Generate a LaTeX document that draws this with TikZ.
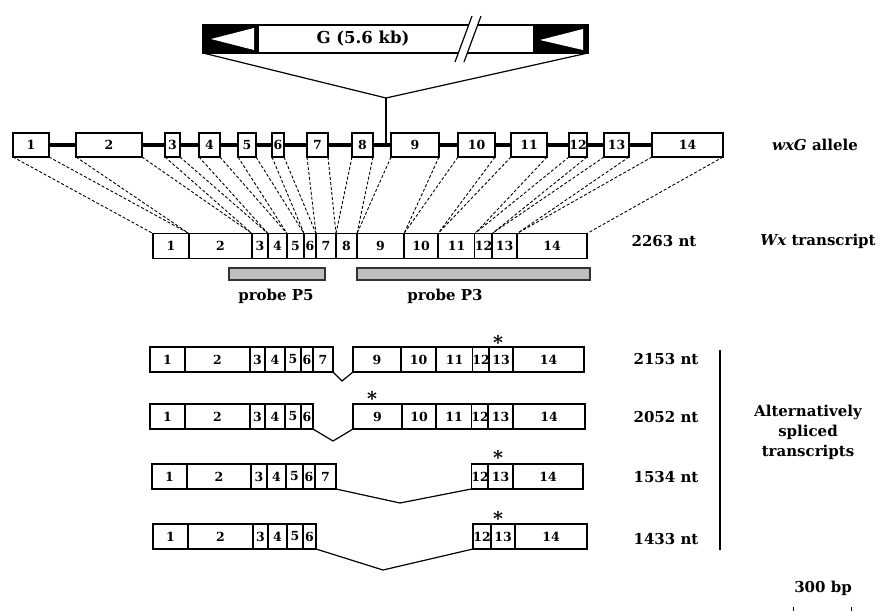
\documentclass[tikz,border=0pt]{standalone}
\usepackage{fontspec}
\setmainfont{DejaVu Serif}
\usetikzlibrary{arrows.meta,positioning,calc}

\begin{document}
\begin{tikzpicture}[x=1pt,y=-1pt,
  every node/.style={font=\fontsize{12.5}{14}\selectfont\bfseries, inner sep=0pt, outer sep=0pt},
  exon/.style={draw, line width=1.8pt, fill=white, minimum height=24pt},
  seg/.style={draw, line width=1.3pt, fill=white, minimum height=25pt},
  intron/.style={line width=3.2pt},
  splice/.style={line width=1.2pt},
  guide/.style={dash pattern=on 3pt off 2pt, line width=0.9pt},
  probebar/.style={draw=black!80, line width=1.2pt, fill=gray!50, minimum height=12pt},
  tag/.style={font=\fontsize{15}{20}\selectfont\bfseries},
  star/.style={font=\fontsize{19}{19}\selectfont\bfseries}]
  \useasboundingbox (0,0) rectangle (887,611);

  %% Insert G with its two end repeats
  \node[draw, line width=1.6pt, minimum width=385pt, minimum height=28pt] (gbox) at (395.5,39) {};
  \fill (203,25) rectangle (259,53);
  \fill[white] (211,39) -- (254,28) -- (254,50) -- cycle;
  \fill (533,25) rectangle (588,53);
  \fill[white] (540,40) -- (583,29) -- (583,50) -- cycle;
  \fill[white] (455,62) -- (472,16) -- (481,16) -- (464,62) -- cycle;
  \draw[splice] (455,62) -- (472,16);
  \draw[splice] (464,62) -- (481,16);
  \node[tag, font=\fontsize{16.5}{20}\selectfont\bfseries] (glabel) at (363,39) {G (5.6 kb)};

  %% Insertion point
  \coordinate (gtip) at (386,98);
  \coordinate (ins)  at (386,145);
  \draw[splice] (gbox.south west) -- (gtip) -- (gbox.south east);
  \draw[splice] (gtip) -- (ins);

  %% wxG allele
  \foreach \n/\l/\r in {1/13/49,2/76/142,3/165/180,4/199/220,5/238/256,6/272/284,7/307/328,
                        8/352/373,9/391/439,10/458/495,11/511/547,12/569/587,13/604/629,14/652/723}
    \node[exon, minimum width={(\r-\l)*1pt}] (a\n) at ({(\l+\r)/2},145) {\n};
  \foreach \i [evaluate=\i as \j using int(\i+1)] in {1,...,13}
    \draw[intron] (a\i) -- (a\j);
  \node[tag] (allele) at (815,145) {\textit{wxG} allele};

  %% Wx transcript
  \foreach \n/\l/\r in {1/153/189,2/189/252,3/252/268,4/268/287,5/287/304,6/304/316,7/316/336,
                        8/336/357,9/357/404,10/404/438,11/438/475,12/475/492,13/492/517,14/517/587}
    \node[seg, minimum width={(\r-\l)*1pt}] (t\n) at ({(\l+\r)/2},246) {\n};
  \foreach \n in {1,...,14} {
    \draw[guide] (a\n.south west) -- (t\n.north west);
    \draw[guide] (a\n.south east) -- (t\n.north east);
  }
  \node[tag] (len0) at (664,241) {2263 nt};
  \node[tag] (wxlabel) at (818,241) {\textit{Wx} transcript};

  %% Probes
  \node[probebar, minimum width=96pt] (p5) at (277,274) {};
  \node[probebar, minimum width=233pt] (p3) at (473.5,274) {};
  \node[tag] (p5label) at (276,296) {probe P5};
  \node[tag] (p3label) at (445,296) {probe P3};

  %% 2153 nt
  \foreach \n/\l/\r in {1/150/185,2/185/250,3/250/265,4/265/285,5/285/301,6/301/313,7/313/333,
                        9/353/401,10/401/436,11/436/473,12/473/489,13/489/513,14/513/584}
    \node[seg, minimum width={(\r-\l)*1pt}] (ra\n) at ({(\l+\r)/2},359.5) {\n};
  \coordinate (ra-v) at (342,381);
  \draw[splice] (ra7.south east) -- (ra-v) -- (ra9.south west);
  \node[star] (ra-star) at (498,342) {*};

  %% 2052 nt
  \foreach \n/\l/\r in {1/150/185,2/185/250,3/250/265,4/265/285,5/285/301,6/301/313,
                        9/353/402,10/402/436,11/436/472,12/472/488,13/488/513,14/513/585}
    \node[seg, minimum width={(\r-\l)*1pt}] (rb\n) at ({(\l+\r)/2},416.5) {\n};
  \coordinate (rb-v) at (333,441);
  \draw[splice] (rb6.south east) -- (rb-v) -- (rb9.south west);
  \node[star] (rb-star) at (372,398) {*};

  %% 1534 nt
  \foreach \n/\l/\r in {1/152/187,2/187/251,3/251/267,4/267/286,5/286/303,6/303/315,7/315/336,
                        12/472/488,13/488/513,14/513/583}
    \node[seg, minimum width={(\r-\l)*1pt}] (rc\n) at ({(\l+\r)/2},476.5) {\n};
  \coordinate (rc-v) at (400,503);
  \draw[splice] (rc7.south east) -- (rc-v) -- (rc12.south west);
  \node[star] (rc-star) at (498,457) {*};

  %% 1433 nt
  \foreach \n/\l/\r in {1/153/188,2/188/253,3/253/268,4/268/287,5/287/303,6/303/316,
                        12/473/491,13/491/515,14/515/587}
    \node[seg, minimum width={(\r-\l)*1pt}] (rd\n) at ({(\l+\r)/2},536.5) {\n};
  \coordinate (rd-v) at (383,570);
  \draw[splice] (rd6.south east) -- (rd-v) -- (rd12.south west);
  \node[star] (rd-star) at (498,518) {*};

  %% Lengths and bracket
  \node[tag] (len1) at (666,359) {2153 nt};
  \node[tag] (len2) at (666,417) {2052 nt};
  \node[tag] (len3) at (666,477) {1534 nt};
  \node[tag] (len4) at (666,539) {1433 nt};
  \draw[splice] (720,350) -- (720,550);
  \node[tag, align=center] (altlabel) at (808,432) {Alternatively\\spliced\\transcripts};

  %% Scale
  \node[tag] (scale) at (823,588) {300 bp};
  \draw[line width=0.6pt] (793,607) -- (793,611);
  \draw[line width=0.6pt] (851,607) -- (851,611);
\end{tikzpicture}
\end{document}
